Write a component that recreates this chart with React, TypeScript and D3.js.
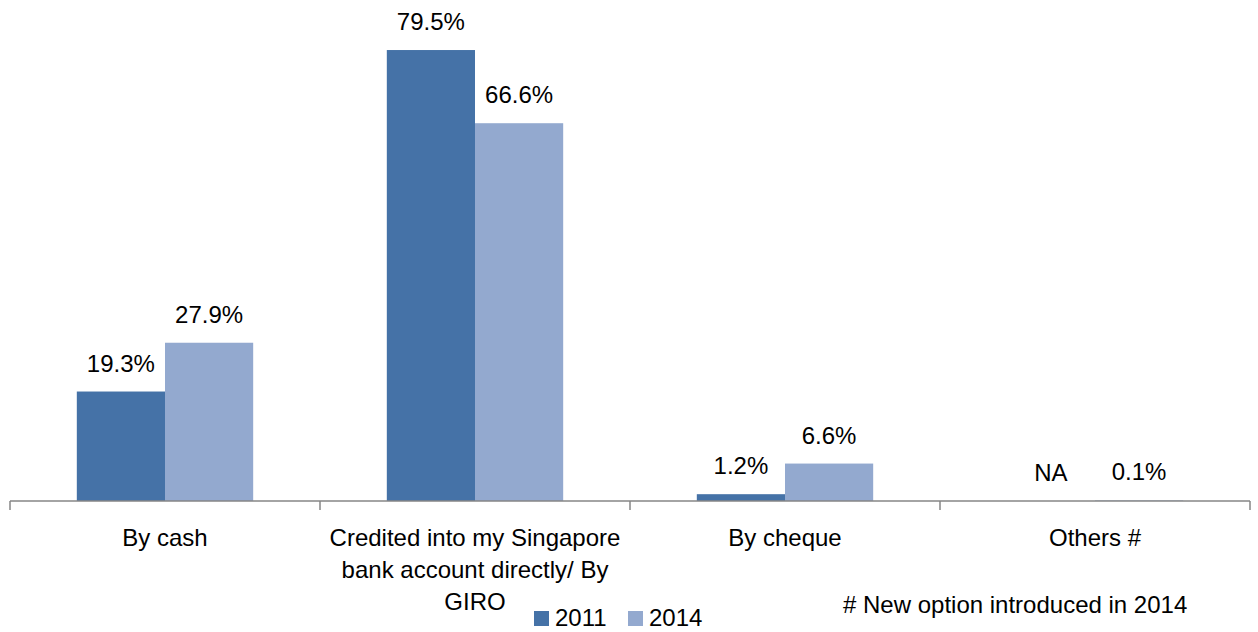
import React from "react";
import * as d3 from "d3";

const categories = [
  ["By cash"],
  ["Credited into my Singapore", "bank account directly/ By", "GIRO"],
  ["By cheque"],
  ["Others #"],
];
const series = ["2011", "2014"];
const values2011: (number | null)[] = [19.3, 79.5, 1.2, null];
const values2014: (number | null)[] = [27.9, 66.6, 6.6, 0.1];
const colors = ["#4572A7", "#93A9CF"];
const note = "# New option introduced in 2014";

const W = 1258;
const H = 632;
const FONT = "'Liberation Sans', Arial, sans-serif";

export default function App() {
  const x0 = d3.scaleBand<number>().domain(d3.range(categories.length)).range([10, 1250]).paddingInner(0).paddingOuter(0);
  const x1 = d3.scaleBand<number>().domain([0, 1]).range([0, x0.bandwidth()]).paddingOuter(0.7576).paddingInner(0);
  const y = d3.scaleLinear().domain([0, 80]).range([501, 47.2]);
  const data = [values2011, values2014];
  const fs = 24;
  return (
    <svg width={W} height={H} style={{ position: "absolute", left: 0, top: 0, background: "#fff" }} fontFamily={FONT}>
      {data.map((vals, si) =>
        vals.map((v, ci) => {
          const x = (x0(ci) as number) + (x1(si) as number);
          const bw = x1.bandwidth();
          const cx = x + bw / 2;
          if (v == null) {
            return (
              <text key={`na-${si}-${ci}`} x={cx} y={y(0) - 20} textAnchor="middle" fontSize={fs} fill="#000">NA</text>
            );
          }
          return (
            <g key={`${si}-${ci}`}>
              <rect x={x} y={y(v)} width={bw} height={y(0) - y(v)} fill={colors[si]} />
              <text x={cx} y={y(v) - 20} textAnchor="middle" fontSize={fs} fill="#000">{v.toFixed(1)}%</text>
            </g>
          );
        })
      )}
      <line x1={10} x2={1250} y1={501} y2={501} stroke="#868686" strokeWidth={1.5} />
      {d3.range(categories.length + 1).map((i) => {
        const tx = i < categories.length ? (x0(i) as number) : 1250;
        return <line key={`t${i}`} x1={tx} x2={tx} y1={501} y2={510} stroke="#868686" strokeWidth={1.5} />;
      })}
      {categories.map((lines, ci) => (
        <text key={`c${ci}`} textAnchor="middle" fontSize={fs} fill="#000">
          {lines.map((l, li) => (
            <tspan key={li} x={(x0(ci) as number) + x0.bandwidth() / 2} y={546 + li * 32}>{l}</tspan>
          ))}
        </text>
      ))}
      <text x={843} y={613} fontSize={fs} fill="#000">{note}</text>
      {series.map((s, i) => (
        <g key={s} transform={`translate(${534 + i * 94},0)`}>
          <rect x={0} y={611} width={15} height={15} fill={colors[i]} />
          <text x={21} y={626} fontSize={fs} fill="#000">{s}</text>
        </g>
      ))}
    </svg>
  );
}
